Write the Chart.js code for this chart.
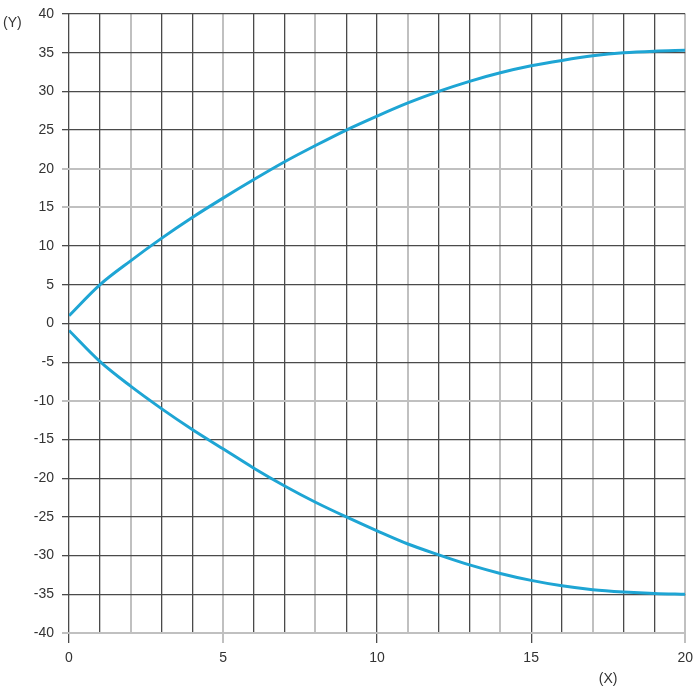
<!DOCTYPE html>
<html>
<head>
<meta charset="utf-8">
<script src="https://cdn.jsdelivr.net/npm/chart.js@4/dist/chart.umd.min.js"></script>
<style>
  html, body { margin: 0; padding: 0; background: #fff; }
  #wrap { width: 700px; height: 700px; }
</style>
</head>
<body>
<div id="wrap"><canvas id="curve-chart" width="700" height="700"></canvas></div>
<script>
Chart.defaults.font.family = '"Liberation Sans", Arial, sans-serif';

const xValues = [0, 1, 2, 3, 4, 5, 6, 7, 8, 9, 10, 11, 12, 13, 14, 15, 16, 17, 18, 19, 20];
const upperY = [1.0, 5.0, 8.1, 11.0, 13.7, 16.2, 18.6, 20.9, 23.0, 25.0, 26.8, 28.5, 30.0, 31.3, 32.4, 33.3, 34.0, 34.6, 35.0, 35.2, 35.3];
const lowerY = [-0.9, -4.9, -8.1, -11.0, -13.7, -16.2, -18.7, -21.0, -23.1, -25.0, -26.8, -28.5, -29.9, -31.2, -32.3, -33.2, -33.9, -34.4, -34.7, -34.9, -35.0];

// light grid lines in the picture
const grayX = [2, 5, 8, 11, 14, 17, 20];
const grayY = [20, 15, -10, -40];

const darkLine = "#4a4a4a";
const lightLine = "#c0c0c0";
const curveColor = "#1ea5d4";

const toPoints = (ys) => xValues.map((x, i) => ({ x: x, y: ys[i] }));

// axis names drawn as text next to the scales
const axisNames = {
  id: "axisNames",
  afterDraw(chart) {
    const { ctx, scales } = chart;
    ctx.save();
    ctx.font = '14px "Liberation Sans", Arial, sans-serif';
    ctx.fillStyle = "#333";
    ctx.textBaseline = "middle";
    ctx.textAlign = "left";
    ctx.fillText("(Y)", 3, scales.y.getPixelForValue(40) + 9);
    ctx.textAlign = "center";
    ctx.fillText("(X)", scales.x.getPixelForValue(17.5), 679);
    ctx.restore();
  }
};

const ctx = document.getElementById("curve-chart").getContext("2d");
const curveChart = new Chart(ctx, {
  type: "line",
  data: {
    datasets: [
      {
        label: "upper",
        data: toPoints(upperY),
        borderColor: curveColor,
        borderWidth: 3,
        pointRadius: 0,
        cubicInterpolationMode: "monotone",
        fill: false
      },
      {
        label: "lower",
        data: toPoints(lowerY),
        borderColor: curveColor,
        borderWidth: 3,
        pointRadius: 0,
        cubicInterpolationMode: "monotone",
        fill: false
      }
    ]
  },
  options: {
    responsive: false,
    animation: false,
    layout: { padding: { top: 14, right: 12, left: 0, bottom: 0 } },
    plugins: {
      legend: { display: false },
      tooltip: { enabled: false }
    },
    scales: {
      x: {
        type: "linear",
        min: 0,
        max: 20,
        border: { display: false },
        afterFit: (scale) => { scale.height = 67; },
        ticks: {
          stepSize: 1,
          autoSkip: false,
          maxRotation: 0,
          padding: 7,
          color: "#333",
          font: { size: 14 },
          callback: (v) => (v % 5 === 0 ? v : "")
        },
        grid: {
          tickLength: 10,
          color: (c) => (grayX.includes(c.tick.value) ? lightLine : darkLine),
          lineWidth: (c) => (grayX.includes(c.tick.value) ? 2 : 1.3),
          tickColor: (c) => (c.tick.value % 5 === 0 ? (grayX.includes(c.tick.value) ? lightLine : darkLine) : "rgba(0,0,0,0)")
        }
      },
      y: {
        type: "linear",
        min: -40,
        max: 40,
        border: { display: false },
        afterFit: (scale) => {
          scale.width = 69;
          scale.paddingTop = 0;
          scale.paddingBottom = 0;
        },
        ticks: {
          stepSize: 5,
          padding: 8,
          color: "#333",
          font: { size: 14 }
        },
        grid: {
          tickLength: 7,
          color: (c) => (grayY.includes(c.tick.value) ? lightLine : darkLine),
          lineWidth: (c) => (grayY.includes(c.tick.value) ? 2 : 1.3)
        }
      }
    }
  },
  plugins: [axisNames]
});
</script>
</body>
</html>
